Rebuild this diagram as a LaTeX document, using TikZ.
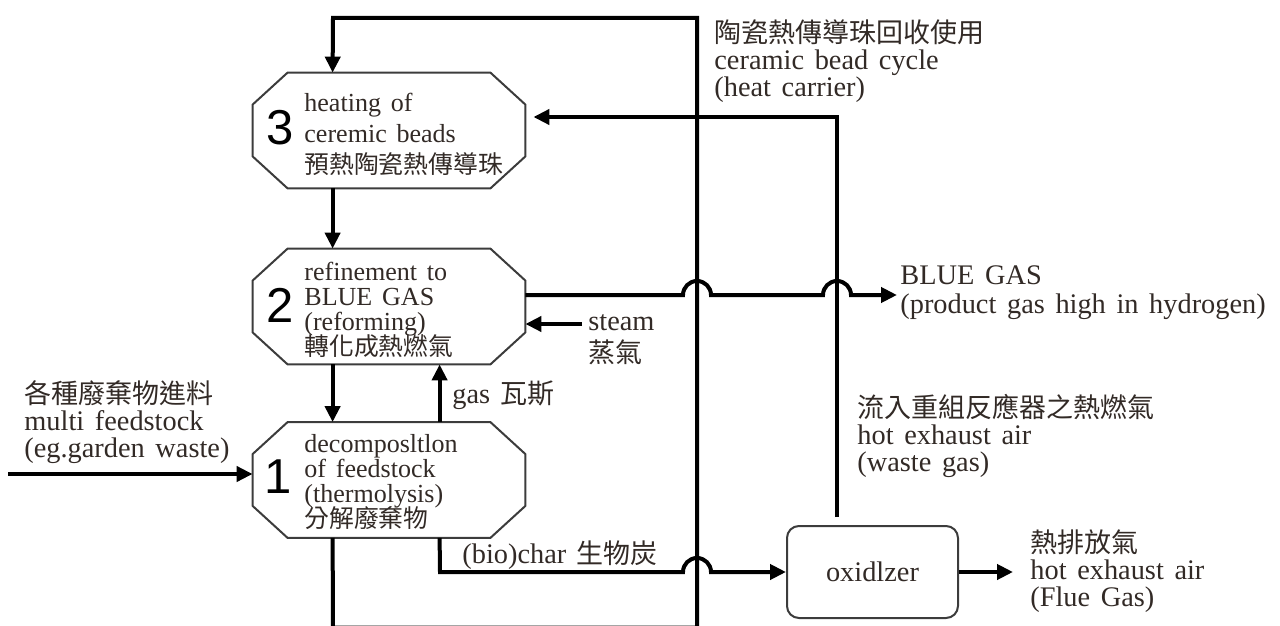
\documentclass[tikz,border=0pt]{standalone}
\usepackage{fontspec}
\setmainfont{Liberation Serif}[Scale=1.05, WordSpace=1.5]
\newfontfamily\cjk{Noto Sans CJK TC}
\newfontfamily\digitfont{Liberation Sans}
\usetikzlibrary{arrows.meta,calc}
\definecolor{txt}{RGB}{50,42,38}
\definecolor{edgegray}{RGB}{60,60,60}
% fixed line pitch even when Chinese and Latin lines are mixed
\newcommand\tightlines{\lineskiplimit=-20pt\relax}

\begin{document}
\begin{tikzpicture}[x=0.5pt,y=-0.5pt,
  flow/.style={line width=2pt,-{Triangle[length=8pt,width=7.5pt]}},
  stage/.style={minimum width=136pt,minimum height=57.5pt,inner sep=0pt,draw=none},
  outline/.style={line width=1pt,draw=edgegray,line join=miter},
  num/.style={inner sep=0pt,font=\digitfont\fontsize{24.5}{24.5}\selectfont},
  boxtxt/.style={inner sep=0pt,align=left,anchor=west,text=txt,
    font=\fontsize{12.4}{12.5}\selectfont\tightlines},
  lbl/.style={inner sep=0pt,align=left,anchor=west,text=txt,
    font=\fontsize{13.5}{13.5}\selectfont\tightlines},
  unit/.style={draw=edgegray,line width=1pt,rounded corners=6pt,
    minimum width=85.5pt,minimum height=46pt,inner sep=0pt,text=txt,
    font=\fontsize{13.5}{13.5}\selectfont}]

\useasboundingbox (0,0) rectangle (1280,626);

% process stages (octagonal boxes)
\node[stage] (b3) at (389,130.5) {};
\node[stage] (b2) at (389,306.5) {};
\node[stage] (b1) at (389,480) {};
\foreach \b in {b1,b2,b3}
  \draw[outline] ([xshift=17.5pt]\b.north west) -- ([xshift=-17.5pt]\b.north east)
    -- ([yshift=-16pt]\b.north east) -- ([yshift=16pt]\b.south east)
    -- ([xshift=-17.5pt]\b.south east) -- ([xshift=17.5pt]\b.south west)
    -- ([yshift=16pt]\b.south west) -- ([yshift=-16pt]\b.north west) -- cycle;

\node[num] (n3) at (280,128) {3};
\node[num] (n2) at (280,305) {2};
\node[num] (n1) at (278,477) {1};

\node[boxtxt,font=\fontsize{12.4}{15.5}\selectfont\tightlines] (t3) at (304,134)
  {heating of\\ceremic beads\\{\cjk 預熱陶瓷熱傳導珠}};
\node[boxtxt] (t2) at (304,309.5)
  {refinement to\\BLUE GAS\\(reforming)\\{\cjk 轉化成熱燃氣}};
\node[boxtxt] (t1) at (304,482)
  {decomposltlon\\of feedstock\\(thermolysis)\\{\cjk 分解廢棄物}};

% oxidizer
\node[unit] (ox) at (872.5,572) {oxidlzer};

% free ends and bends of the connectors
\coordinate (tl) at (333,18);
\coordinate (tr) at (697,18);
\coordinate (br) at (697,627.5);
\coordinate (bl) at (333,627.5);
\coordinate (fd) at (8,474);
\coordinate (st) at (582,324);
\coordinate (bg) at (897,295);
\coordinate (oxup) at (837,117);
\coordinate (chr) at (440,572);
\coordinate (fl) at (1013,572);

% ceramic bead loop
\draw[flow] ([xshift=40pt]b1.south west) -- (bl) -- (br) -- (tr) -- (tl)
  -- ([xshift=40pt]b3.north west);
\draw[flow] ([xshift=40pt]b3.south west) -- ([xshift=40pt]b2.north west);
\draw[flow] ([xshift=40pt]b2.south west) -- ([xshift=40pt]b1.north west);
\draw[flow] ([xshift=93.5pt]b1.north west) -- ([xshift=93.5pt]b2.south west);

% feedstock and steam inputs
\draw[flow] (fd) -- (fd -| b1.west);
\draw[flow] (st) -- (st -| b2.east);

% product gas, jumping over the two risers
\draw[flow] (bg -| b2.east) -- (683,295) arc[start angle=180,end angle=0,radius=7pt]
  -- (823,295) arc[start angle=180,end angle=0,radius=7pt] -- (bg);

% char to the oxidizer
\draw[flow] ([xshift=93.5pt]b1.south west) -- (chr) -- (683,572)
  arc[start angle=180,end angle=0,radius=7pt] -- (ox.west);

% hot exhaust back to stage 3
\draw[flow,shorten <=4pt,shorten >=4pt] (ox.north -| oxup) -- (oxup) -- (oxup -| b3.east);

% flue gas out
\draw[flow] (ox.east) -- (fl);

% labels
\node[lbl] (l1) at (714,61) {{\cjk 陶瓷熱傳導珠回收使用}\\ceramic bead cycle\\(heat carrier)};
\node[lbl,font=\fontsize{13.5}{14.5}\selectfont\tightlines] (l2) at (900,293)
  {BLUE GAS\\(product gas high in hydrogen)};
\node[lbl,font=\fontsize{13.5}{16}\selectfont\tightlines] (l3) at (588,340)
  {steam\\{\cjk 蒸氣}};
\node[lbl] (l4) at (452,395) {gas {\cjk 瓦斯}};
\node[lbl] (l5) at (24,422) {{\cjk 各種廢棄物進料}\\multi feedstock\\(eg.garden waste)};
\node[lbl] (l6) at (857,436) {{\cjk 流入重組反應器之熱燃氣}\\hot exhaust air\\(waste gas)};
\node[lbl] (l7) at (462,555) {(bio)char {\cjk 生物炭}};
\node[lbl] (l8) at (1030,571) {{\cjk 熱排放氣}\\hot exhaust air\\(Flue Gas)};
\end{tikzpicture}
\end{document}
